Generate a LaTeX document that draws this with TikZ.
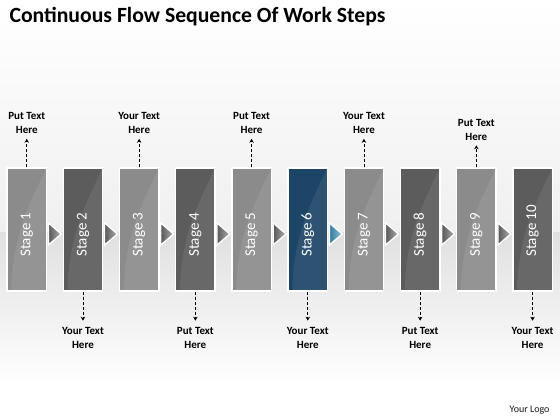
\documentclass[tikz,border=0pt]{standalone}
\usepackage{fontspec}
\setmainfont{Carlito}
\usetikzlibrary{calc,shadows,arrows.meta}

\definecolor{boxlight}{HTML}{8B8B8B}
\definecolor{boxdark}{HTML}{5C5C5C}
\definecolor{boxblue}{HTML}{1D4567}
\definecolor{tipgray}{HTML}{6E6E6E}
\definecolor{tipblue}{HTML}{3C97C6}

\tikzset{
    stagebox/.style={draw=white, line width=1.4pt, minimum width=39.5pt,
        minimum height=123pt, inner sep=0pt,
        drop shadow={opacity=0.3, shadow xshift=0.7pt, shadow yshift=-0.7pt}},
    stagetext/.style={rotate=90, anchor=west, text=white, inner sep=0pt,
        font=\fontsize{15}{15}\selectfont},
    note/.style={align=center, inner sep=0pt,
        font=\bfseries\fontsize{11}{14}\selectfont},
    pointer/.style={densely dashed, line width=0.7pt,
        -{Stealth[length=4pt, width=4.5pt]}},
    chevron/.style={draw=white, line width=1.3pt, line join=miter}
}

\begin{document}
\begin{tikzpicture}[x=1pt, y=1pt]
    \useasboundingbox (0,0) rectangle (560,420);
    % background band
    \shade[top color=white, bottom color=gray!12] (0,187) rectangle (560,420);
    \shade[top color=gray!24, bottom color=white] (0,35) rectangle (560,187);
    \fill[white] (0,0) rectangle (560,35);

    \node[anchor=west, font=\bfseries\fontsize{21.7}{26}\selectfont]
        (title) at (6,403) {Continuous Flow Sequence Of Work Steps};

    % stages
    \foreach \i/\col in {1/boxlight, 2/boxdark, 3/boxlight, 4/boxdark,
        5/boxlight, 6/boxblue, 7/boxlight, 8/boxdark, 9/boxlight, 10/boxdark} {
        \node[stagebox, fill=\col] (s\i) at ({26.75+(\i-1)*56.2}, 190.5) {};
        \fill[white, opacity=0.08]
            ($(s\i.south west)+(5,1)$)
            .. controls ($(s\i.south west)+(6,60)$) and ($(s\i.north east)+(-14,-30)$)
            .. ($(s\i.north east)+(-1,-1)$) -- ($(s\i.south east)+(-1,1)$) -- cycle;
        \node[stagetext] (t\i) at ($(s\i.center)+(0,-27.5)$) {Stage \i};
    }

    % chevrons between stages
    \foreach \i/\tc in {1/tipgray, 2/tipgray, 3/tipgray, 4/tipgray, 5/tipgray,
        6/tipblue, 7/tipgray, 8/tipgray, 9/tipgray} {
        \pgfmathtruncatemacro{\j}{\i+1}
        \coordinate (m\i) at ($(s\i.east)!0.5!(s\j.west)+(0,-4.5)$);
        \draw[chevron, left color=\tc!80!black, right color=\tc!55!white]
            ($(m\i)+(-6.5,11)$) -- ($(m\i)+(6.5,0)$) -- ($(m\i)+(-6.5,-11)$) -- cycle;
    }

    % notes above
    \foreach \i/\txt/\h in {1/Put/297, 3/Your/297, 5/Put/297, 7/Your/297, 9/Put/290.5} {
        \node[note] (n\i) at ({26.75+(\i-1)*56.2}, \h) {\txt{} Text\\Here};
        \draw[pointer] (s\i.north) -- ([yshift=-5pt]n\i.south);
    }

    % notes below
    \foreach \i/\txt in {2/Your, 4/Put, 6/Your, 8/Put, 10/Your} {
        \node[note] (n\i) at ({26.75+(\i-1)*56.2}, 82.5) {\txt{} Text\\Here};
        \draw[pointer] (s\i.south) -- ([yshift=6pt]n\i.north);
    }

    \node[anchor=east, text=gray!20!black, font=\fontsize{10}{12}\selectfont]
        (logo) at (553,10) {Your Logo};
\end{tikzpicture}
\end{document}
